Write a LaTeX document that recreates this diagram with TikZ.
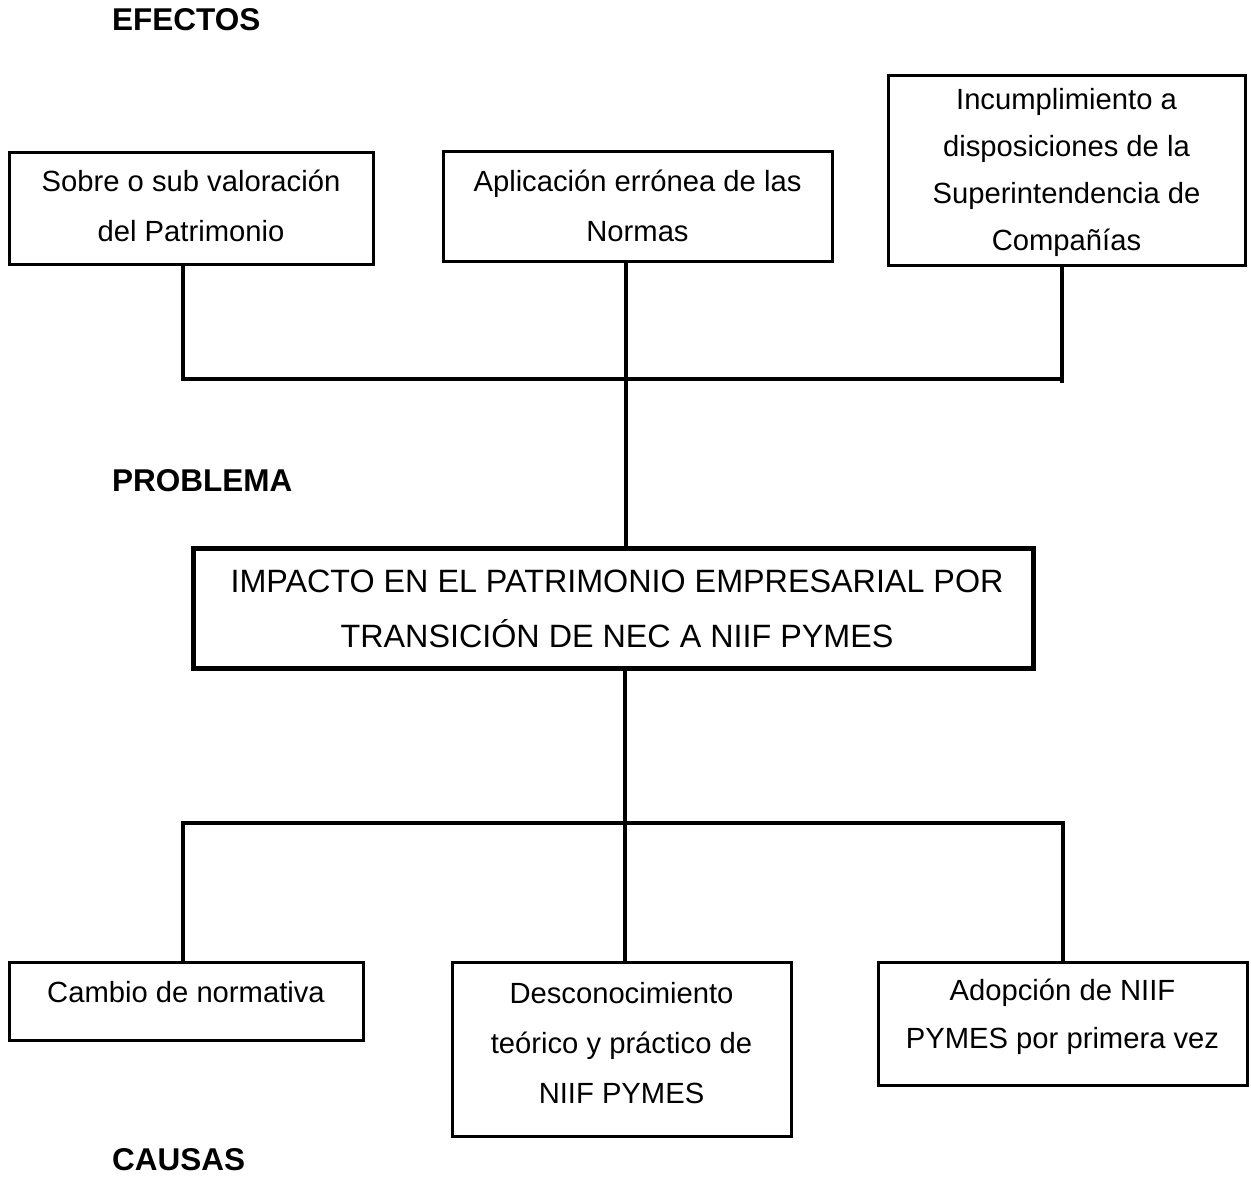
\documentclass[tikz,border=0pt]{standalone}
\usepackage{fontspec}
\setmainfont{Liberation Sans}
\begin{document}
\begin{tikzpicture}[x=1pt,y=-1pt,
  box/.style={draw=black, line width=3pt, inner sep=0pt},
  bigbox/.style={draw=black, line width=5pt, inner sep=0pt},
  txt/.style={inner sep=0pt, align=center, font=\fontsize{29.2}{50}\selectfont},
  bigtxt/.style={inner sep=0pt, align=center, font=\fontsize{32.3}{55}\selectfont},
  head/.style={inner sep=0pt, anchor=west, font=\fontsize{31.5}{36}\selectfont\bfseries},
  link/.style={line width=3.2pt}]
\useasboundingbox (0,0) rectangle (1251,1176);

% section headings
\node[head] (hEfectos) at (112,20) {EFECTOS};
\node[head] (hProblema) at (112,481) {PROBLEMA};
\node[head] (hCausas) at (112,1160) {CAUSAS};

% effects
\node[box, minimum width=364pt, minimum height=112pt] (e1) at (191,208) {};
\node[txt] (e1t) at (191,206) {Sobre o sub valoración\\del Patrimonio};
\node[box, minimum width=389pt, minimum height=110pt] (e2) at (637.5,206) {};
\node[txt] (e2t) at (637.5,206) {Aplicación errónea de las\\Normas};
\node[box, minimum width=357pt, minimum height=190pt] (e3) at (1066.5,170) {};
\node[txt, font=\fontsize{29.2}{47}\selectfont] (e3t) at (1066.5,172.5) {Incumplimiento a\\disposiciones de la\\Superintendencia de\\Compañías};

% problem
\node[bigbox, minimum width=840pt, minimum height=120pt] (p) at (613,608) {};
\node[bigtxt] (pt) at (617,609) {IMPACTO EN EL PATRIMONIO EMPRESARIAL POR\\TRANSICIÓN DE NEC A NIIF PYMES};

% causes
\node[box, minimum width=354pt, minimum height=78pt] (c1) at (186,1001) {};
\node[txt] (c1t) at (186,992) {Cambio de normativa};
\node[box, minimum width=339pt, minimum height=174pt] (c2) at (621.5,1049) {};
\node[txt] (c2t) at (621.5,1043) {Desconocimiento\\teórico y práctico de\\NIIF PYMES};
\node[box, minimum width=369pt, minimum height=123pt] (c3) at (1062.5,1023.5) {};
\node[txt, font=\fontsize{29.2}{48}\selectfont] (c3t) at (1062.5,1017) {Adopción de NIIF\\PYMES por primera vez};

% junctions of the connecting bars
\coordinate (j1) at (183,379);
\coordinate (j2) at (626,379);
\coordinate (j3) at (1062,379);
\coordinate (k1) at (183,823);
\coordinate (k2) at (625,823);
\coordinate (k3) at (1063,823);

% effects to problem
\draw[link] (e1.south -| j1) -- (j1) -- (j3) -- (e3.south -| j3);
\draw[link] (j3) -- ++(0,4);
\draw[link] (e2.south -| j2) -- (p.north -| j2);

% problem to causes
\draw[link] (p.south -| k2) -- (c2.north -| k2);
\draw[link] (c1.north -| k1) -- (k1) -- (k3) -- (c3.north -| k3);
\end{tikzpicture}
\end{document}
